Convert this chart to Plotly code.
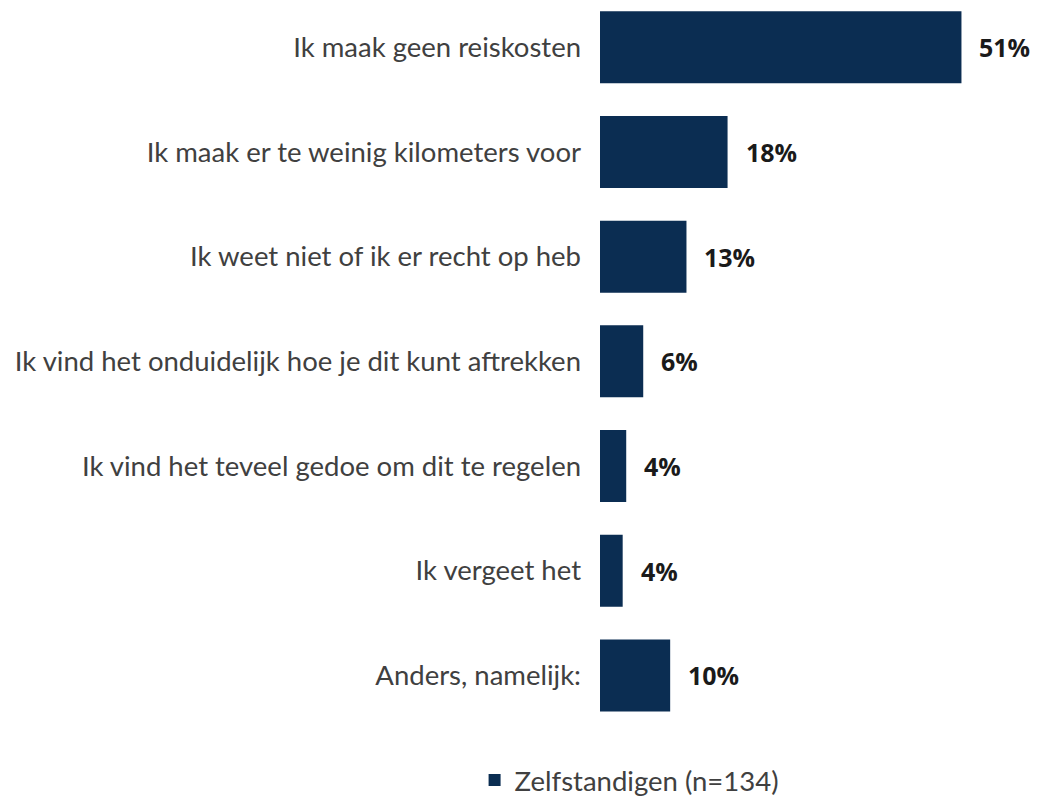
import plotly.graph_objects as go

categories = [
    "Ik maak geen reiskosten",
    "Ik maak er te weinig kilometers voor",
    "Ik weet niet of ik er recht op heb",
    "Ik vind het onduidelijk hoe je dit kunt aftrekken",
    "Ik vind het teveel gedoe om dit te regelen",
    "Ik vergeet het",
    "Anders, namelijk:",
]
values = [51.0, 18.0, 12.2, 6.1, 3.7, 3.2, 9.9]
value_labels = ["51%", "18%", "13%", "6%", "4%", "4%", "10%"]
series_name = "Zelfstandigen (n=134)"

BAR = "#0B2D52"
LABEL = "#404040"

fig = go.Figure()
fig.add_trace(go.Bar(
    y=categories, x=values, orientation="h", name=series_name,
    marker=dict(color=BAR, line=dict(width=0)),
    hoverinfo="skip",
))

for c, v, t in zip(categories, values, value_labels):
    fig.add_annotation(x=v, y=c, text=f"<b>{t}</b>", showarrow=False,
                       xanchor="left", xshift=16, yanchor="middle",
                       font=dict(family="Open Sans", size=25, color="#1a1a1a"))

fig.update_layout(
    width=1030, height=788,
    margin=dict(l=592, r=0, t=0, b=68),
    paper_bgcolor="white", plot_bgcolor="white",
    bargap=0.312,
    showlegend=True,
    legend=dict(orientation="h", xref="container", x=0.603, xanchor="center",
                yref="container", y=0.02, yanchor="middle",
                font=dict(family="Lato", size=27.5, color=LABEL)),
    font=dict(family="Lato", size=27.5, color=LABEL),
)
fig.update_xaxes(range=[0, 61.8], visible=False)
fig.update_yaxes(
    categoryorder="array", categoryarray=categories,
    range=[6.502, -0.375], showgrid=False, showline=False, zeroline=False,
    ticks="", ticklabelstandoff=18,
    tickfont=dict(family="Lato", size=27.5, color=LABEL),
)

fig.write_html("out.html")
